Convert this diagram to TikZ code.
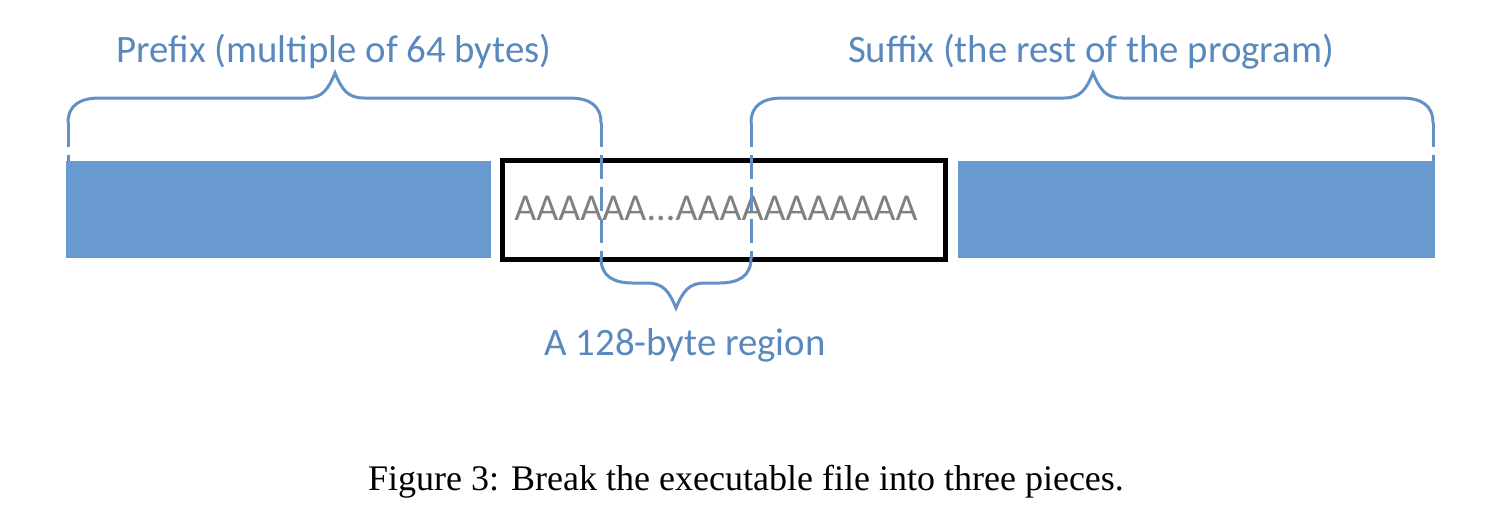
\documentclass[tikz,border=0pt]{standalone}
\usepackage{fontspec}
\setmainfont{Carlito}
\newfontfamily\capfont{Liberation Serif}
\usepackage{tikz}

\definecolor{barblue}{RGB}{104,154,207}
\definecolor{braceblue}{RGB}{98,145,200}
\definecolor{labelblue}{RGB}{88,136,190}
\definecolor{agray}{RGB}{128,128,128}

\tikzset{
  bar/.style={fill=barblue, draw=none, inner sep=0pt, minimum height=48.5pt},
  regionbox/.style={draw=black, line width=2.5pt, fill=white, inner sep=0pt,
    minimum width=221.5pt, minimum height=49.5pt},
  bracepath/.style={draw=braceblue, line width=1.5pt, line cap=round},
  cutline/.style={draw=braceblue, line width=1.5pt, dash pattern=on 12pt off 4pt},
  bluelabel/.style={text=labelblue, font=\fontsize{19.4}{22}\selectfont, inner sep=0pt}
}

\begin{document}
\begin{tikzpicture}[x=0.5pt, y=-0.5pt]
\useasboundingbox (0,0) rectangle (1508,516);

% Bars and the region box
\node[bar, minimum width=212.5pt] (prefixbar) at (278.5,209.5) {};
\node[regionbox] (region) at (724,210) {};
\node[bar, minimum width=238.5pt] (suffixbar) at (1196.5,209.5) {};
\node[anchor=base west, inner sep=0pt, text=agray, font=\fontsize{19}{22}\selectfont] (fill) at (514,220) {AAAAAA...AAAAAAAAAAA};

% Brace ends
\coordinate (pl) at (68,123);
\coordinate (pr) at (601,123);
\coordinate (sl) at (751,123);
\coordinate (sr) at (1433,123);
\coordinate (rl) at (601,258);
\coordinate (rr) at (751,258);

% Prefix brace
\draw[bracepath] (pl) .. controls (68,105) and (80,98) .. (100,98) -- (306,98)
  .. controls (322,98) and (328,90) .. (335,73) .. controls (342,90) and (348,98) .. (364,98)
  -- (569,98) .. controls (589,98) and (601,105) .. (pr);
\node[bluelabel, anchor=base] (prefix) at (334,62) {Prefix (multiple of 64 bytes)};

% Suffix brace
\draw[bracepath] (sl) .. controls (751,105) and (763,98) .. (783,98) -- (1064,98)
  .. controls (1080,98) and (1086,90) .. (1093,73) .. controls (1100,90) and (1106,98) .. (1122,98)
  -- (1401,98) .. controls (1421,98) and (1433,105) .. (sr);
\node[bluelabel, anchor=base] (suffix) at (1091,62) {Suffix (the rest of the program)};

% Region brace
\draw[bracepath] (rl) .. controls (601,276) and (613,283) .. (633,283) -- (647,283)
  .. controls (663,283) and (669,291) .. (676,308) .. controls (683,291) and (689,283) .. (705,283)
  -- (719,283) .. controls (739,283) and (751,276) .. (rr);
\node[bluelabel, anchor=base] (regionlabel) at (685,355) {A 128-byte region};

% Cut lines
\draw[cutline] (pl) -- (pl |- prefixbar.north);
\draw[cutline] (sr) -- (sr |- suffixbar.north);
\draw[cutline] (pr) -- (rl);
\draw[cutline] (sl) -- (rr);

% Caption
\node[anchor=base, inner sep=0pt, font=\capfont\fontsize{18}{21}\selectfont] (caption) at (746,490) {Figure 3: Break the executable file into three pieces.};
\end{tikzpicture}
\end{document}
